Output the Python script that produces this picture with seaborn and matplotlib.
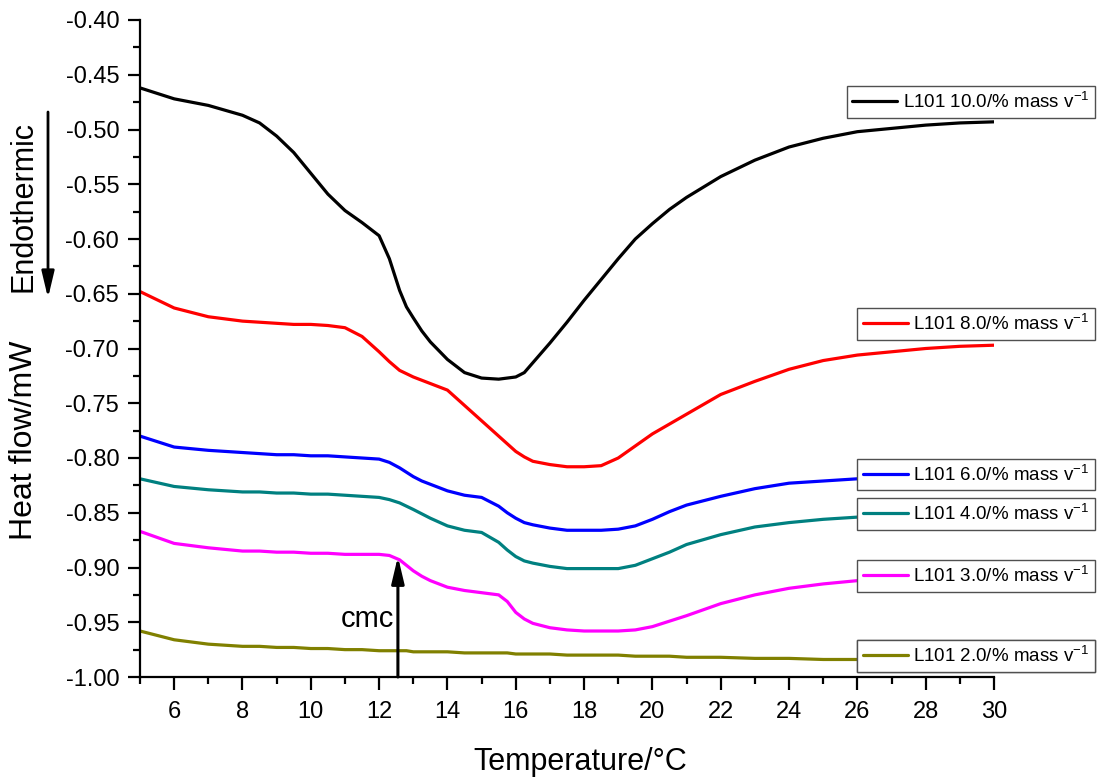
import matplotlib
matplotlib.use("Agg")
import matplotlib.pyplot as plt
from matplotlib.lines import Line2D
from matplotlib.patches import ArrowStyle
from matplotlib.ticker import MultipleLocator, FormatStrFormatter
import seaborn as sns
import pandas as pd

# Temperature grid (°C) shared by all DSC traces
temperature = [5, 6, 7, 8, 8.5, 9, 9.5, 10, 10.5, 11, 11.5, 12, 12.3, 12.6, 12.8, 13,
               13.25, 13.5, 14, 14.5, 15, 15.5, 15.75, 16, 16.25, 16.5, 17, 17.5, 18,
               18.5, 19, 19.5, 20, 20.5, 21, 22, 23, 24, 25, 26, 27, 28, 29, 30]

# Heat flow (mW) for each L101 concentration
hf_10 = [-0.462, -0.472, -0.478, -0.487, -0.494, -0.506, -0.521, -0.540, -0.559, -0.574,
         -0.585, -0.597, -0.618, -0.647, -0.662, -0.672, -0.684, -0.694, -0.710, -0.722,
         -0.727, -0.728, -0.727, -0.726, -0.722, -0.713, -0.695, -0.676, -0.656, -0.637,
         -0.618, -0.600, -0.586, -0.573, -0.562, -0.543, -0.528, -0.516, -0.508, -0.502,
         -0.499, -0.496, -0.494, -0.493]
hf_8 = [-0.648, -0.663, -0.671, -0.675, -0.676, -0.677, -0.678, -0.678, -0.679, -0.681,
        -0.689, -0.703, -0.712, -0.720, -0.723, -0.726, -0.729, -0.732, -0.738, -0.752,
        -0.766, -0.780, -0.787, -0.794, -0.799, -0.803, -0.806, -0.808, -0.808, -0.807,
        -0.800, -0.789, -0.778, -0.769, -0.760, -0.742, -0.730, -0.719, -0.711, -0.706,
        -0.703, -0.700, -0.698, -0.697]
hf_6 = [-0.780, -0.790, -0.793, -0.795, -0.796, -0.797, -0.797, -0.798, -0.798, -0.799,
        -0.800, -0.801, -0.804, -0.809, -0.813, -0.817, -0.821, -0.824, -0.830, -0.834,
        -0.836, -0.844, -0.850, -0.855, -0.859, -0.861, -0.864, -0.866, -0.866, -0.866,
        -0.865, -0.862, -0.856, -0.849, -0.843, -0.835, -0.828, -0.823, -0.821, -0.819,
        -0.818, -0.817, -0.817, -0.817]
hf_4 = [-0.819, -0.826, -0.829, -0.831, -0.831, -0.832, -0.832, -0.833, -0.833, -0.834,
        -0.835, -0.836, -0.838, -0.841, -0.844, -0.847, -0.851, -0.855, -0.862, -0.866,
        -0.868, -0.877, -0.884, -0.890, -0.894, -0.896, -0.899, -0.901, -0.901, -0.901,
        -0.901, -0.898, -0.892, -0.886, -0.879, -0.870, -0.863, -0.859, -0.856, -0.854,
        -0.853, -0.852, -0.852, -0.851]
hf_3 = [-0.867, -0.878, -0.882, -0.885, -0.885, -0.886, -0.886, -0.887, -0.887, -0.888,
        -0.888, -0.888, -0.889, -0.893, -0.898, -0.903, -0.908, -0.912, -0.918, -0.921,
        -0.923, -0.925, -0.931, -0.941, -0.947, -0.951, -0.955, -0.957, -0.958, -0.958,
        -0.958, -0.957, -0.954, -0.949, -0.944, -0.933, -0.925, -0.919, -0.915, -0.912,
        -0.911, -0.910, -0.910, -0.909]
hf_2 = [-0.958, -0.966, -0.970, -0.972, -0.972, -0.973, -0.973, -0.974, -0.974, -0.975,
        -0.975, -0.976, -0.976, -0.976, -0.976, -0.977, -0.977, -0.977, -0.977, -0.978,
        -0.978, -0.978, -0.978, -0.979, -0.979, -0.979, -0.979, -0.980, -0.980, -0.980,
        -0.980, -0.981, -0.981, -0.981, -0.982, -0.982, -0.983, -0.983, -0.984, -0.984,
        -0.984, -0.985, -0.985, -0.985]

series_labels = ["L101 10.0/% mass v$^{-1}$", "L101 8.0/% mass v$^{-1}$",
                 "L101 6.0/% mass v$^{-1}$", "L101 4.0/% mass v$^{-1}$",
                 "L101 3.0/% mass v$^{-1}$", "L101 2.0/% mass v$^{-1}$"]
series_values = [hf_10, hf_8, hf_6, hf_4, hf_3, hf_2]
series_colors = ["#000000", "#ff0000", "#0000ff", "#008080", "#ff00ff", "#808000"]
# vertical centre of each legend box (figure pixels from top)
legend_rows = [102, 324, 474.5, 514, 576, 656]

cmc_temperature = 12.55
cmc_heat_flow = -0.890

sns.set_style("ticks")
plt.rcParams["font.family"] = ["Liberation Sans", "DejaVu Sans"]
plt.rcParams["mathtext.fontset"] = "custom"
plt.rcParams["mathtext.rm"] = "Liberation Sans"
plt.rcParams["mathtext.it"] = "Liberation Sans"
plt.rcParams["axes.unicode_minus"] = False
for key in ("text.color", "axes.labelcolor", "xtick.color", "ytick.color", "axes.edgecolor"):
    plt.rcParams[key] = "black"

W, H = 1097, 779
fig = plt.figure(figsize=(W / 100, H / 100), dpi=100)
fig.patch.set_facecolor("white")
ax = fig.add_axes([140 / W, 1 - 677 / H, 854 / W, 657 / H])

frames = []
for lab, vals in zip(series_labels, series_values):
    frames.append(pd.DataFrame({"T": temperature, "HF": vals, "sample": lab}))
df = pd.concat(frames, ignore_index=True)

sns.lineplot(data=df, x="T", y="HF", hue="sample", hue_order=series_labels,
             palette=series_colors, linewidth=2.3, legend=False, ax=ax,
             estimator=None, sort=False, solid_joinstyle="round",
             solid_capstyle="round")

ax.set_xlim(5, 30)
ax.set_ylim(-1.0, -0.40)
ax.xaxis.set_major_locator(MultipleLocator(2))
ax.xaxis.set_minor_locator(MultipleLocator(1))
ax.yaxis.set_major_locator(MultipleLocator(0.05))
ax.yaxis.set_minor_locator(MultipleLocator(0.025))
ax.yaxis.set_major_formatter(FormatStrFormatter("%.2f"))
ax.set_xticks([6, 8, 10, 12, 14, 16, 18, 20, 22, 24, 26, 28, 30])
ax.tick_params(which="major", direction="out", length=9, width=1.6,
               labelsize=17, colors="black")
ax.tick_params(which="minor", direction="out", length=5, width=1.6, colors="black")
ax.tick_params(axis="y", pad=6)
ax.tick_params(axis="x", pad=8)
sns.despine(ax=ax)
for side in ("left", "bottom"):
    ax.spines[side].set_linewidth(1.6)
    ax.spines[side].set_color("black")
ax.set_xlabel("")
ax.set_ylabel("")

# axis titles
fig.text(580 / W, 1 - 762 / H, "Temperature/\u00b0C", ha="center", va="center", fontsize=22)
fig.text(24 / W, 1 - 440 / H, "Heat flow/mW", ha="center", va="center",
         rotation=90, fontsize=23)
fig.text(24 / W, 1 - 207 / H, "Endothermic", ha="center", va="center",
         rotation=90, fontsize=22)

head = ArrowStyle("-|>", head_length=1.6, head_width=0.38)
fig.add_artist(plt.Annotation("", xy=(48 / W, 1 - 298 / H), xytext=(48 / W, 1 - 112 / H),
                              xycoords="figure fraction", textcoords="figure fraction",
                              arrowprops=dict(arrowstyle=head, mutation_scale=10, lw=2,
                                              color="black", shrinkA=0, shrinkB=0)))

# cmc marker
ax.annotate("", xy=(cmc_temperature, cmc_heat_flow), xytext=(cmc_temperature, -1.0),
            arrowprops=dict(arrowstyle=head, mutation_scale=10, lw=2.2,
                            color="black", shrinkA=0, shrinkB=0))
ax.text(cmc_temperature - 0.12, -0.954, "cmc", ha="right", va="baseline", fontsize=21)

# one framed legend per trace, next to its end point
for lab, col, row in zip(series_labels, series_colors, legend_rows):
    handle = Line2D([0], [0], color=col, lw=2.3)
    leg = ax.legend(handles=[handle], labels=[lab], loc="center right",
                    bbox_to_anchor=(1095 / W, 1 - row / H), bbox_transform=fig.transFigure,
                    frameon=True, fancybox=False, framealpha=1, edgecolor="#505050",
                    borderpad=0.3, handlelength=2.4, handletextpad=0.3,
                    borderaxespad=0, fontsize=13.5)
    leg.get_frame().set_linewidth(1.0)
    ax.add_artist(leg)

fig.savefig("out.png", dpi=100, facecolor="white")
